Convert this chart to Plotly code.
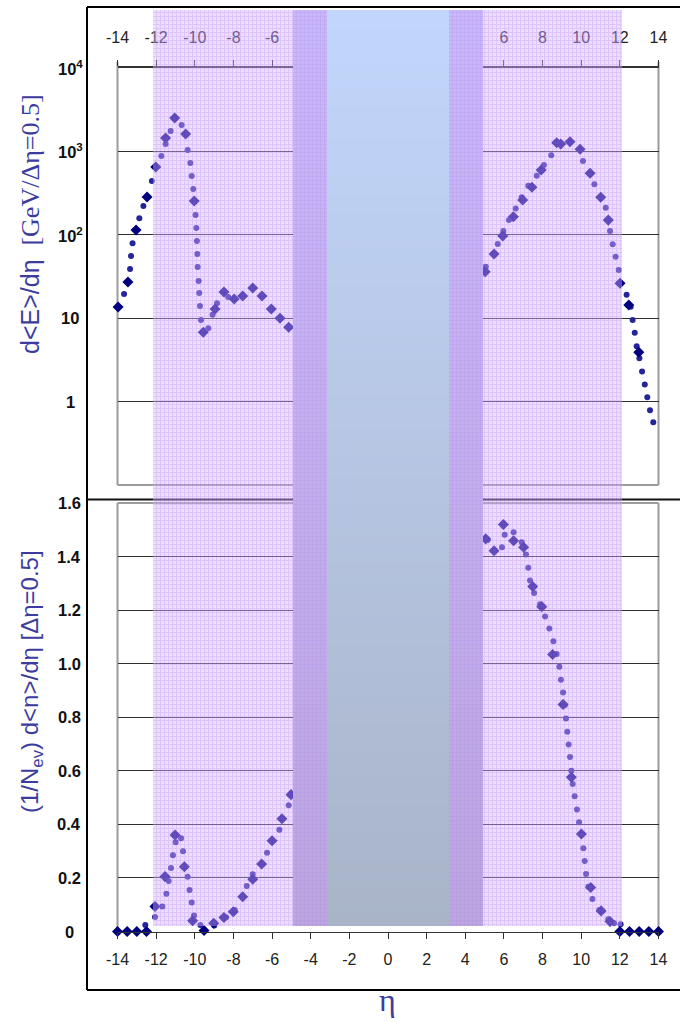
import math
import base64
import struct
import zlib
import numpy as np
import plotly.graph_objects as go

W, H = 680, 1022

# ---------------- data ----------------
# Top panel: d<E>/dη [GeV/Δη=0.5] (log scale)
top_circle_eta = [-13.66, -13.35, -13.30, -13.22, -12.87, -12.66, -12.22, -11.73, -11.51, -11.25,
                  -10.68, -10.37, -10.23, -10.16, -10.08, -9.96, -9.92, -9.89, -9.87, -9.85,
                  -9.80, -9.77, -9.73, -9.68, -9.30, -9.08, -8.85, -8.27,
                  5.06, 5.68, 5.97, 6.26, 6.61, 6.92, 7.26, 7.70, 8.07, 8.45,
                  10.09, 10.68, 11.27, 11.49, 11.63, 11.78, 11.94, 12.35, 12.56, 12.66,
                  12.77, 12.87, 13.01, 13.15, 13.29, 13.42, 13.56, 13.73]
top_circle_val = [19.5, 38.9, 55.7, 79.4, 158, 221, 442, 881, 1228, 1758,
                  2074, 1040, 727, 507, 354, 173, 121, 84, 59, 41,
                  28, 20, 14, 9.5, 7.6, 11, 15.1, 18,
                  41.4, 77.6, 111, 150, 206, 282, 388, 512, 687, 898,
                  767, 403, 211, 111, 77, 54.6, 37.8, 19.1, 13.7, 9.5,
                  6.7, 4.6, 3.3, 2.3, 1.6, 1.13, 0.79, 0.565]
top_diamond_eta = [-13.97, -13.46, -13.04, -12.47, -12.02, -11.51, -11.04, -10.47, -10.03, -9.56,
                   -8.95, -8.49, -7.96, -7.52, -7.00, -6.52, -6.04, -5.59, -5.14,
                   5.03, 5.49, 5.94, 6.49, 6.97, 7.45, 7.93, 8.73, 8.94, 9.42,
                   9.94, 10.46, 11.01, 11.40, 12.01, 12.46, 12.98]
top_diamond_val = [13.6, 27.2, 114, 284, 650, 1449, 2512, 1618, 254, 6.8,
                   12.9, 20.6, 17, 18.5, 23, 18.5, 12.9, 10, 7.8,
                   36.1, 58.9, 97, 165, 261, 371, 598, 1271, 1228, 1306,
                   1059, 546, 282, 150, 26.2, 14.4, 3.9]

# Bottom panel: (1/N_ev) d<n>/dη [Δη=0.5]
bot_circle_eta = [-12.56, -12.06, -11.68, -11.47, -11.35, -11.23, -11.13, -10.99, -10.71, -10.61,
                  -10.37, -10.27, -10.16, -10.04, -9.71, -8.99, -8.39, -7.93, -7.31, -7.00,
                  -6.26, -5.62, -5.14,
                  5.16, 5.90, 6.04, 6.50, 6.92, 7.14, 7.26, 7.35, 7.56, 7.87,
                  8.13, 8.35, 8.56, 8.73, 8.87, 8.95, 9.06, 9.16, 9.21, 9.28,
                  9.35, 9.42, 9.49, 9.56, 9.66, 9.78, 9.89, 10.11, 10.18, 10.25,
                  10.37, 10.58, 10.94, 11.40, 11.70, 12.04]
bot_circle_val = [0.024, 0.054, 0.093, 0.141, 0.189, 0.237, 0.285, 0.333, 0.348, 0.300,
                  0.204, 0.155, 0.108, 0.060, 0.024, 0.022, 0.053, 0.080, 0.170, 0.214,
                  0.294, 0.380, 0.471,
                  1.462, 1.435, 1.481, 1.491, 1.453, 1.408, 1.358, 1.311, 1.264, 1.222,
                  1.176, 1.131, 1.084, 1.036, 0.989, 0.940, 0.892, 0.846, 0.795, 0.746,
                  0.698, 0.652, 0.600, 0.551, 0.505, 0.456, 0.408, 0.311, 0.263, 0.215,
                  0.167, 0.121, 0.080, 0.046, 0.031, 0.027]
bot_diamond_eta = [-14, -13.5, -13, -12.5, -12.06, -11.54, -11.02, -10.54, -10.11, -9.52,
                   -9.02, -8.49, -8.01, -7.52, -7.00, -6.54, -6.00, -5.49, -5.02,
                   5.06, 5.49, 5.97, 6.50, 7.02, 7.49, 7.96, 8.52, 9.06, 9.49,
                   10.01, 10.49, 11.03, 11.49, 12, 12.5, 13, 13.5, 14]
bot_diamond_val = [0, 0, 0, 0, 0.093, 0.205, 0.360, 0.242, 0.040, 0.004,
                   0.031, 0.052, 0.074, 0.130, 0.195, 0.252, 0.339, 0.421, 0.511,
                   1.466, 1.422, 1.520, 1.459, 1.435, 1.288, 1.213, 1.034, 0.848, 0.576,
                   0.364, 0.164, 0.077, 0.037, 0, 0, 0, 0, 0]

x_tick_vals = [-14, -12, -10, -8, -6, -4, -2, 0, 2, 4, 6, 8, 10, 12, 14]
x_tick_text = ["-14", "-12", "-10", "-8", "-6", "-4", "-2", "0", "2", "4", "6", "8", "10", "12", "14"]
top_y_tick_vals = [10000, 1000, 100, 10, 1]
top_y_tick_text = ["10<sup>4</sup>", "10<sup>3</sup>", "10<sup>2</sup>", "10", "1"]
bot_y_tick_vals = [1.6, 1.4, 1.2, 1.0, 0.8, 0.6, 0.4, 0.2, 0]
bot_y_tick_text = ["1.6", "1.4", "1.2", "1.0", "0.8", "0.6", "0.4", "0.2", "0"]

# ---------------- style ----------------
CIRCLE = "#25259a"
DIAMOND = "#00007e"
TITLE_BLUE = "#3c3ca0"
SANS = "Arial, Liberation Sans, sans-serif"
SERIF = "Liberation Serif, Times New Roman, serif"


def px_x(x):
    return x / W


def px_y(y):
    return 1 - y / H


XD = [px_x(117.5), px_x(658.5)]
TOP_D = [px_y(485), px_y(68)]
BOT_D = [px_y(931.5), px_y(503)]


# ---------------- background band texture (decoration image) ----------------
def png_data_uri(rgba):
    h, w, _ = rgba.shape
    raw = b"".join(b"\x00" + rgba[r].tobytes() for r in range(h))

    def chunk(tag, data):
        c = struct.pack(">I", len(data)) + tag + data
        return c + struct.pack(">I", zlib.crc32(tag + data) & 0xffffffff)

    png = (b"\x89PNG\r\n\x1a\n"
           + chunk(b"IHDR", struct.pack(">IIBBBBB", w, h, 8, 6, 0, 0, 0))
           + chunk(b"IDAT", zlib.compress(raw, 9))
           + chunk(b"IEND", b""))
    return "data:image/png;base64," + base64.b64encode(png).decode()


BX0, BX1 = 153, 622          # band pixel extent (left light band start .. right light band end)
BY0, BY1 = 10, 926
bw, bh = BX1 - BX0, BY1 - BY0
xs = np.arange(BX0, BX1)
ys = np.arange(BY0, BY1)
tt = ((ys - BY0) / bh)[:, None]
top_c = np.array([194, 214, 252], float)
bot_c = np.array([169, 180, 200], float)
grad = top_c * (1 - tt) + bot_c * tt                     # (bh, 3)
grad = np.repeat(grad[:, None, :], bw, axis=1)            # (bh, bw, 3)
line = ((xs % 4) == 0)[None, :] | ((ys % 4) == 0)[:, None]
line3 = line[:, :, None]
center = ((xs >= 327) & (xs < 449))[None, :, None]
dark = (((xs >= 293) & (xs < 327)) | ((xs >= 449) & (xs < 483)))[None, :, None]

img = np.zeros((bh, bw, 4), float)
# light translucent lavender band with grid texture
light_rgb = np.where(line3, np.array([189, 137, 247]), np.array([213, 182, 250]))
light_a = np.where(line, 0.50, 0.45)
img[:, :, :3] = light_rgb
img[:, :, 3] = light_a * 255
# darker purple band over the gradient (opaque)
d_a = np.where(line3, 0.58, 0.50)
d_c = np.where(line3, np.array([195, 140, 242]), np.array([205, 155, 245]))
dark_rgb = (1 - d_a) * grad + d_a * d_c
img[:, :, :3] = np.where(dark, dark_rgb, img[:, :, :3])
img[:, :, :3] = np.where(center, grad, img[:, :, :3])
img[:, :, 3] = np.where((dark | center)[:, :, 0], 255, img[:, :, 3])
band_uri = png_data_uri(np.clip(np.round(img), 0, 255).astype(np.uint8))

fig = go.Figure()

fig.add_trace(go.Scatter(x=top_circle_eta, y=top_circle_val, mode="markers",
                         marker=dict(symbol="circle", size=6, color=CIRCLE),
                         xaxis="x", yaxis="y", cliponaxis=False, hoverinfo="skip"))
fig.add_trace(go.Scatter(x=top_diamond_eta, y=top_diamond_val, mode="markers",
                         marker=dict(symbol="diamond", size=8.5, color=DIAMOND),
                         xaxis="x", yaxis="y", cliponaxis=False, hoverinfo="skip"))
fig.add_trace(go.Scatter(x=bot_circle_eta, y=bot_circle_val, mode="markers",
                         marker=dict(symbol="circle", size=6, color=CIRCLE),
                         xaxis="x2", yaxis="y2", cliponaxis=False, hoverinfo="skip"))
fig.add_trace(go.Scatter(x=bot_diamond_eta, y=bot_diamond_val, mode="markers",
                         marker=dict(symbol="diamond", size=8.5, color=DIAMOND),
                         xaxis="x2", yaxis="y2", cliponaxis=False, hoverinfo="skip"))

shapes = []


def pline(x0, y0, x1, y1, color, width, layer="below"):
    shapes.append(dict(type="line", xref="paper", yref="paper",
                       x0=px_x(x0), y0=px_y(y0), x1=px_x(x1), y1=px_y(y1),
                       line=dict(color=color, width=width), layer=layer))


# outer frame and separator
pline(87, 7, 680, 7, "#000", 2)
pline(87, 7, 87, 990, "#000", 2)
pline(87, 990, 680, 990, "#000", 2)
pline(87, 499.5, 680, 499.5, "#111", 2)
# grey inner boxes
GREY = "#9c9c9c"
pline(117.5, 62, 117.5, 485, GREY, 2)
pline(658.5, 62, 658.5, 485, GREY, 2)
pline(117.5, 485, 658.5, 485, GREY, 2)
pline(117.5, 503, 117.5, 931.5, GREY, 2)
pline(658.5, 503, 658.5, 931.5, GREY, 2)
pline(117.5, 503, 658.5, 503, GREY, 2)

images = [dict(source=band_uri, xref="paper", yref="paper",
               x=px_x(BX0), y=px_y(BY0), sizex=bw / W, sizey=bh / H,
               sizing="stretch", xanchor="left", yanchor="top", layer="above")]

annotations = []
for v, t in zip(top_y_tick_vals, top_y_tick_text):
    annotations.append(dict(x=px_x(70), xref="paper", y=math.log10(v), yref="y", text=t,
                            showarrow=False, xanchor="center", yanchor="middle",
                            font=dict(family=SANS, size=16.5, color="#111", weight="bold")))
for v, t in zip(bot_y_tick_vals, bot_y_tick_text):
    annotations.append(dict(x=px_x(69), xref="paper", y=v, yref="y2", text=t,
                            showarrow=False, xanchor="center", yanchor="middle",
                            font=dict(family=SANS, size=16.5, color="#111", weight="bold")))

annotations.append(dict(
    x=px_x(30), y=px_y(224), xref="paper", yref="paper", textangle=-90,
    text='d&lt;E&gt;/dη  <span style="font-family:Liberation Serif,Times New Roman,serif;font-size:26px">[GeV/Δη=0.5]</span>',
    showarrow=False, xanchor="center", yanchor="middle",
    font=dict(family=SANS, size=25, color=TITLE_BLUE)))
annotations.append(dict(
    x=px_x(31), y=px_y(682), xref="paper", yref="paper", textangle=-90,
    text="(1/N<sub>ev</sub>) d&lt;n&gt;/dη [Δη=0.5]",
    showarrow=False, xanchor="center", yanchor="middle",
    font=dict(family=SANS, size=24, color=TITLE_BLUE)))
annotations.append(dict(
    x=px_x(387), y=px_y(1000), xref="paper", yref="paper", text="η",
    showarrow=False, xanchor="center", yanchor="middle",
    font=dict(family=SERIF, size=32, color=TITLE_BLUE)))

tickfont = dict(family=SANS, size=16, color="#222")
fig.update_layout(
    template="none",
    width=W, height=H, margin=dict(l=0, r=0, t=0, b=0, autoexpand=False),
    paper_bgcolor="white", plot_bgcolor="rgba(0,0,0,0)", showlegend=False,
    xaxis=dict(domain=XD, range=[-14, 14], anchor="y", side="top", automargin=False,
               tickvals=x_tick_vals, ticktext=x_tick_text, ticks="outside", ticklen=6,
               tickcolor="#333", tickwidth=1, showline=True, linecolor="#333", linewidth=1.5,
               showgrid=False, zeroline=False, tickfont=tickfont, ticklabelstandoff=11),
    yaxis=dict(domain=TOP_D, type="log", range=[-1, 4], anchor="x", automargin=False,
               tickvals=top_y_tick_vals, showticklabels=False, ticks="",
               showgrid=True, gridcolor="#2e2e2e", gridwidth=1, zeroline=False, showline=False),
    xaxis2=dict(domain=XD, range=[-14, 14], anchor="y2", side="bottom", matches="x",
                automargin=False,
                tickvals=x_tick_vals, ticktext=x_tick_text, ticks="outside", ticklen=6,
                tickcolor="#333", tickwidth=1, showline=True, linecolor="#333", linewidth=1,
                showgrid=False, zeroline=False, tickfont=tickfont, ticklabelstandoff=7),
    yaxis2=dict(domain=BOT_D, range=[0, 1.6], anchor="x2", automargin=False,
                tickvals=[1.4, 1.2, 1.0, 0.8, 0.6, 0.4, 0.2], showticklabels=False, ticks="",
                showgrid=True, gridcolor="#2e2e2e", gridwidth=1, zeroline=False, showline=False),
    shapes=shapes, annotations=annotations, images=images,
)

fig.write_html("out.html")
